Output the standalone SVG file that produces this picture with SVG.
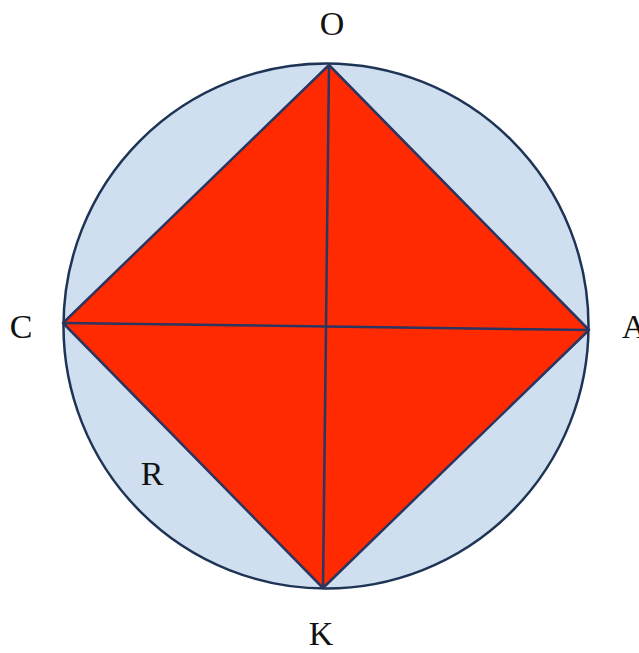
<svg xmlns="http://www.w3.org/2000/svg" width="639" height="653" viewBox="0 0 639 653">
<style>
.lbl{font-family:"Liberation Serif","DejaVu Serif",serif;font-size:34px;fill:#111;text-anchor:middle}
.ln{stroke:#2a3560;stroke-width:2.5;fill:none}
</style>
<rect width="639" height="653" fill="#fff"/>
<g id="circle"><circle cx="326" cy="326" r="262.5" fill="#cfdff0" stroke="#1e3454" stroke-width="2.5"/></g>
<g id="square"><polygon points="329,65 589,330 323,588 63,323" fill="#ff2a00" stroke="#2a3560" stroke-width="2.5" stroke-linejoin="round"/></g>
<g id="connectors">
<line class="ln" x1="329" y1="65" x2="323" y2="588"/>
<line class="ln" x1="63" y1="323" x2="589" y2="330"/>
</g>
<g id="O"><text class="lbl" x="332" y="35">O</text></g>
<g id="C"><text class="lbl" x="21" y="338">C</text></g>
<g id="A"><text class="lbl" x="634" y="338">A</text></g>
<g id="K"><text class="lbl" x="321" y="645">K</text></g>
<g id="R"><text class="lbl" x="152" y="485">R</text></g>
</svg>
